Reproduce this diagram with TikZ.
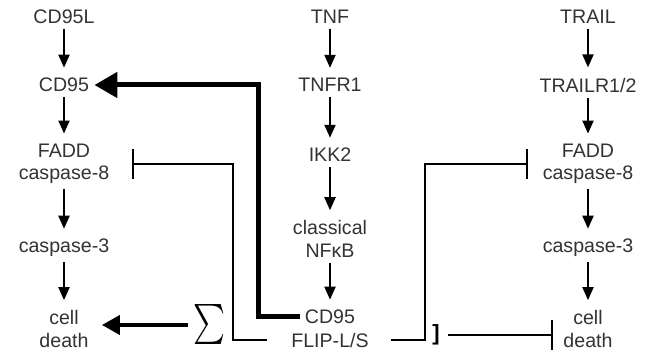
\documentclass[tikz,border=0pt]{standalone}
\usepackage{fontspec}
\setmainfont{Liberation Sans}
\usepackage{graphicx}
\usetikzlibrary{arrows.meta}

\begin{document}
\begin{tikzpicture}[x=0.5pt,y=-0.5pt,
    every node/.style={text=black!80, inner sep=2.5pt, align=center,
        font=\fontsize{9.8}{11.25}\selectfont},
    arr/.style={line width=1pt, -{Triangle[length=6.5pt,width=5.5pt]}, shorten >=2.5pt},
    bigarr/.style={line width=2.5pt, -{Triangle[length=11.5pt,width=12.5pt]}},
    sumarr/.style={line width=2pt, -{Triangle[length=9pt,width=9.5pt]}, shorten >=4pt},
    inh/.style={line width=1pt, -{Bar[width=15pt]}}
]

\useasboundingbox (0,0) rectangle (649,353);

% CD95 pathway
\node (cd95l) at (64,17) {CD95L};
\node (cd95) at (64,85) {CD95};
\node (fadd8L) at (64,164) {FADD\\caspase-8};
\node (casp3L) at (64,248) {caspase-3};
\node (deathL) at (64,329) {cell\\death};

% TNF pathway
\node (tnf) at (330,17) {TNF};
\node (tnfr1) at (330,85) {TNFR1};
\node (ikk2) at (330,155) {IKK2};
\node (nfkb) at (330,239) {classical\\NFκB};
\node (cd95M) at (330,317) {CD95};
\node (flipM) at (330,340) {FLIP-L/S};

% TRAIL pathway
\node (trail) at (588,17) {TRAIL};
\node (trailr) at (588,85) {TRAILR1/2};
\node (fadd8R) at (588,164) {FADD\\caspase-8};
\node (casp3R) at (588,248) {caspase-3};
\node (deathR) at (588,329) {cell\\death};

% Sum and bracket
\node[text=black] (sum) at (209,325) {\resizebox*{16pt}{20pt}{$\sum$}};
\node[font=\fontsize{11}{12}\selectfont\bfseries, text=black, inner sep=1pt] (brk) at (436,335) {]};

% Cascades
\foreach \a/\b in {cd95l/cd95, cd95/fadd8L, fadd8L/casp3L, casp3L/deathL,
                   tnf/tnfr1, tnfr1/ikk2, ikk2/nfkb, nfkb/cd95M,
                   trail/trailr, trailr/fadd8R, fadd8R/casp3R, casp3R/deathR}
    \draw[arr] (\a) -- (\b);

% Induction of CD95
\coordinate (thickX) at (258,0);
\draw[bigarr] (cd95M.west) -| (thickX |- cd95.east) -- (cd95.east);

% Inhibition by FLIP
\coordinate (thinL) at (233,0);
\coordinate (thinR) at (425,0);
\draw[inh, shorten <=9.5pt, shorten >=8.5pt] (flipM.west) -| (thinL |- fadd8L.east) -- (fadd8L.east);
\draw[inh, shorten <=8.5pt, shorten >=4.5pt] (flipM.east) -| (thinR |- fadd8R.west) -- (fadd8R.west);
\draw[inh, shorten <=3pt, shorten >=2.5pt] (brk.east) -- (brk.east -| deathR.west);

% Net outcome
\draw[sumarr] (sum.west) -- (sum.west -| deathL.east);

\end{tikzpicture}
\end{document}
